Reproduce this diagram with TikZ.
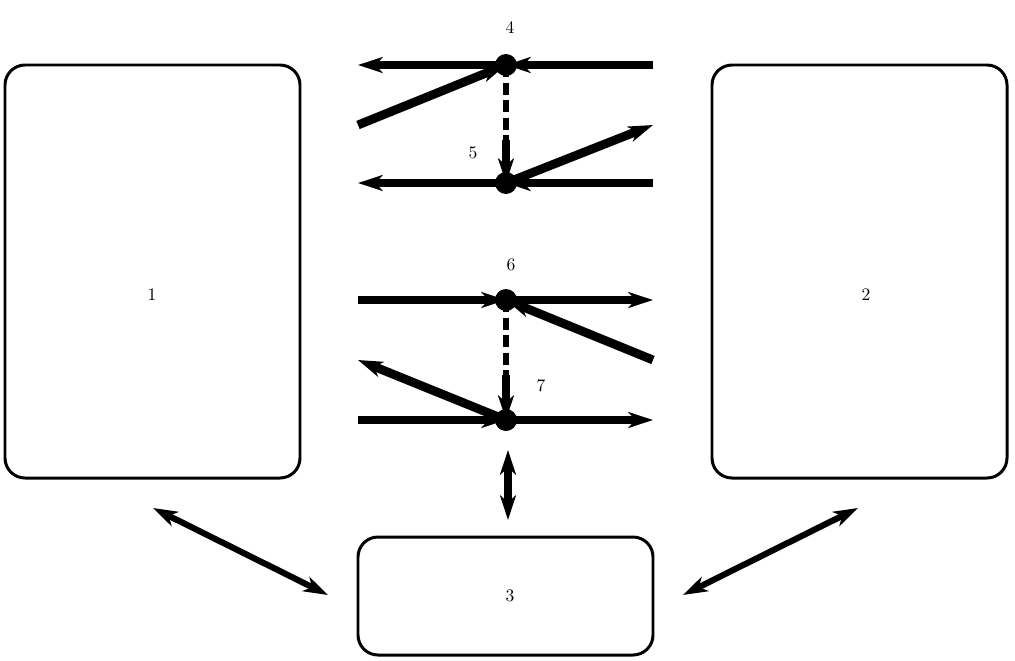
\documentclass[tikz,border=0pt]{standalone}
\usepackage{tikz}
\usetikzlibrary{arrows.meta}
\begin{document}
\begin{tikzpicture}[x=0.02cm,y=-0.02cm,>={Stealth[length=14pt,width=9pt,inset=4pt]}]
\tikzstyle{box}=[draw, line width=1.7pt, rounded corners=0.4cm]
\tikzstyle{flow}=[line width=5pt]
\tikzstyle{dashflow}=[line width=3.5pt, dash pattern=on 7pt off 3pt]
\tikzstyle{dot}=[fill, circle, inner sep=0pt, minimum size=0.44cm]
\useasboundingbox (0,0) rectangle (1015,660);
\draw[box] (5,65) rectangle (300,478);
\draw[box] (712,65) rectangle (1007,478);
\draw[box] (358,537) rectangle (653,655);
\node (n1) at (152,295) {1};
\node (n2) at (866,295) {2};
\node (n3) at (510,596) {3};
% upper pair
\node[dot] (d4) at (506,65) {};
\node[dot] (d5) at (506,183) {};
\node (l4) at (510,28) {4};
\node (l5) at (473,153) {5};
\coordinate (a1) at (653,65);  \coordinate (a2) at (358,65);
\coordinate (a3) at (358,125); \coordinate (a4) at (653,183);
\coordinate (a5) at (358,183); \coordinate (a6) at (653,125);
\draw[flow,->] (a1) -- (d4.center);
\draw[flow,->] (d4.center) -- (a2);
\draw[flow,->] (a3) -- (d4.center);
\draw[dashflow] (d4.center) -- (506,150);
\draw[flow,->] (506,140) -- (d5.center);
\draw[flow,->] (a4) -- (d5.center);
\draw[flow,->] (d5.center) -- (a5);
\draw[flow,->] (d5.center) -- (a6);
% lower pair
\node[dot] (d6) at (506,300) {};
\node[dot] (d7) at (506,420) {};
\node (l6) at (511,265) {6};
\node (l7) at (541,386) {7};
\coordinate (b1) at (358,300); \coordinate (b2) at (653,300);
\coordinate (b3) at (653,360); \coordinate (b4) at (358,420);
\coordinate (b5) at (653,420); \coordinate (b6) at (358,360);
\draw[flow,->] (b1) -- (d6.center);
\draw[flow,->] (d6.center) -- (b2);
\draw[flow,->] (b3) -- (d6.center);
\draw[dashflow] (d6.center) -- (506,385);
\draw[flow,->] (506,375) -- (d7.center);
\draw[flow,->] (b4) -- (d7.center);
\draw[flow,->] (d7.center) -- (b5);
\draw[flow,->] (d7.center) -- (b6);
% links to box 3
\coordinate (c1) at (508,450); \coordinate (c2) at (508,520);
\coordinate (c3) at (153,508); \coordinate (c4) at (328,595);
\coordinate (c5) at (683,595); \coordinate (c6) at (858,508);
\draw[flow,<->] (c1) -- (c2);
\draw[line width=3.5pt,<->] (c3) -- (c4);
\draw[line width=3.5pt,<->] (c5) -- (c6);
\end{tikzpicture}
\end{document}
